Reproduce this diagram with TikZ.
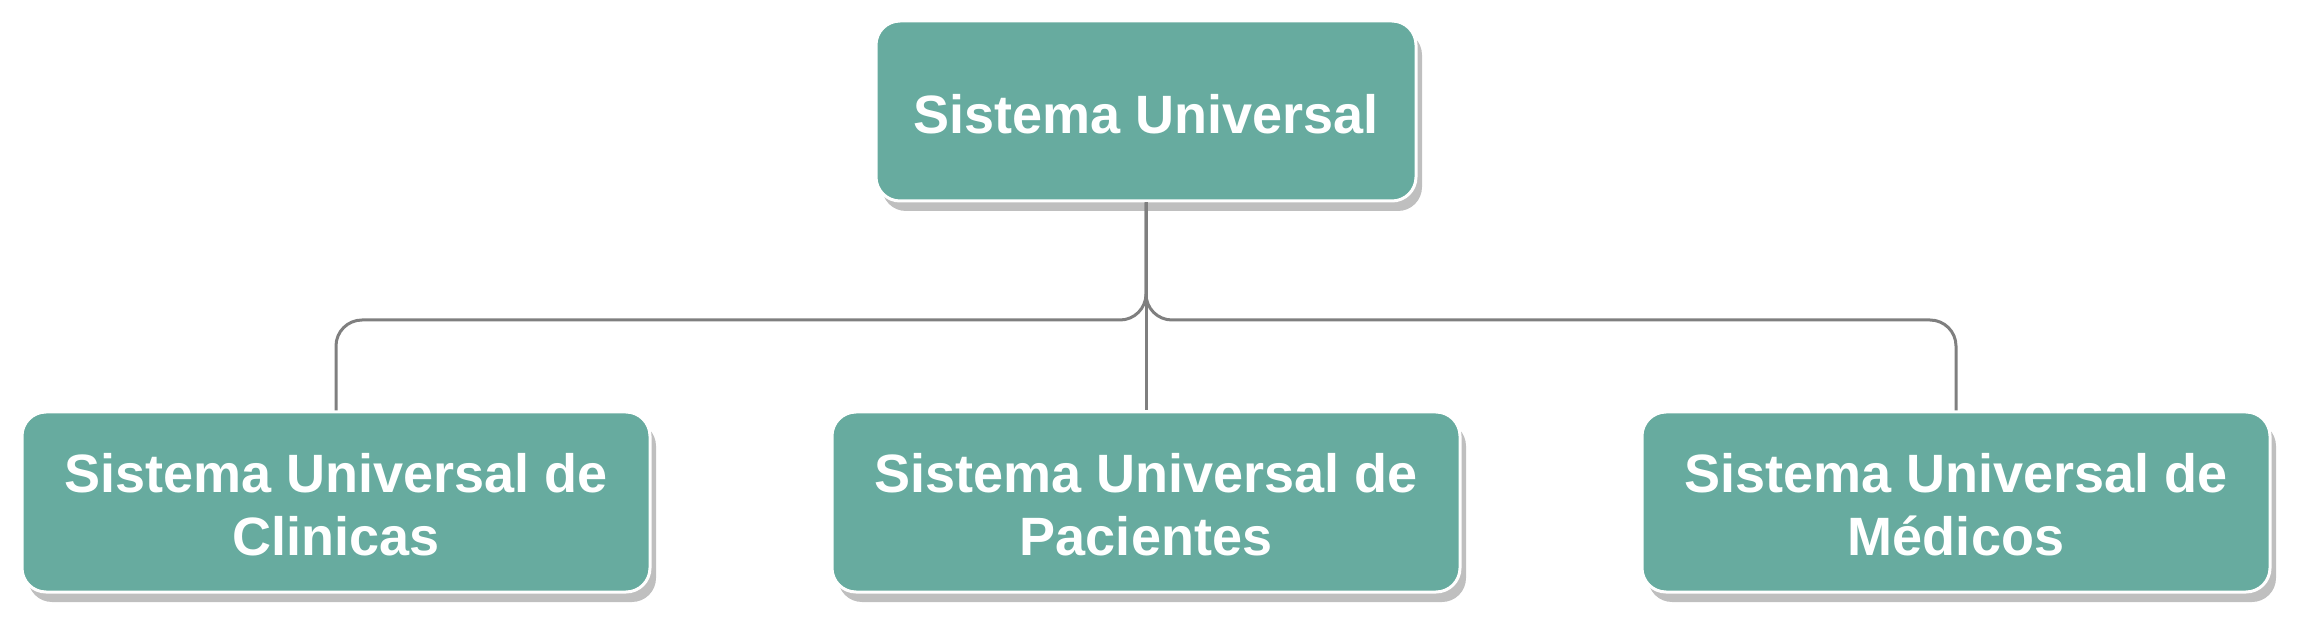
\documentclass[tikz,border=0pt]{standalone}
\usepackage{fontspec}
\setmainfont{Liberation Sans}
\usetikzlibrary{shadows}
\definecolor{boxteal}{HTML}{67AB9F}
\definecolor{shadowgray}{HTML}{BFBFBF}
\definecolor{linegray}{HTML}{7F7F7F}
\tikzset{
  orgbox/.style={rectangle, rounded corners=12pt, fill=boxteal, draw=white, line width=1.5pt,
    inner sep=0pt,
    drop shadow={shadow xshift=3pt, shadow yshift=-5pt, fill=shadowgray, opacity=1}},
  boxtext/.style={inner sep=0pt, align=center, text=white, yshift=-1.5pt,
    font=\fontsize{27pt}{31.5pt}\selectfont\bfseries},
  topbox/.style={orgbox, minimum width=270pt, minimum height=90pt},
  subbox/.style={orgbox, minimum width=314pt, minimum height=90pt},
  link/.style={draw=linegray, line width=1.5pt, rounded corners=13pt}
}
\begin{document}
\begin{tikzpicture}[x=1pt,y=1pt]
\useasboundingbox (0,0) rectangle (1149.5,311);
\node[topbox, label={[boxtext]center:Sistema Universal}] (top) at (573,255.5) {};
\node[subbox, label={[boxtext]center:{Sistema Universal de\\Clinicas}}] (cli) at (168,60) {};
\node[subbox, label={[boxtext]center:{Sistema Universal de\\Pacientes}}] (pac) at (573,60) {};
\node[subbox, label={[boxtext]center:{Sistema Universal de\\Médicos}}] (med) at (978,60) {};
\coordinate (bus) at (573,151);
\draw[link] (top.south) -- (top.south |- bus) -- (cli.north |- bus) -- (cli.north);
\draw[link] (top.south) -- (top.south |- bus) -- (med.north |- bus) -- (med.north);
\draw[link] (top.south) -- (pac.north);
\end{tikzpicture}
\end{document}
